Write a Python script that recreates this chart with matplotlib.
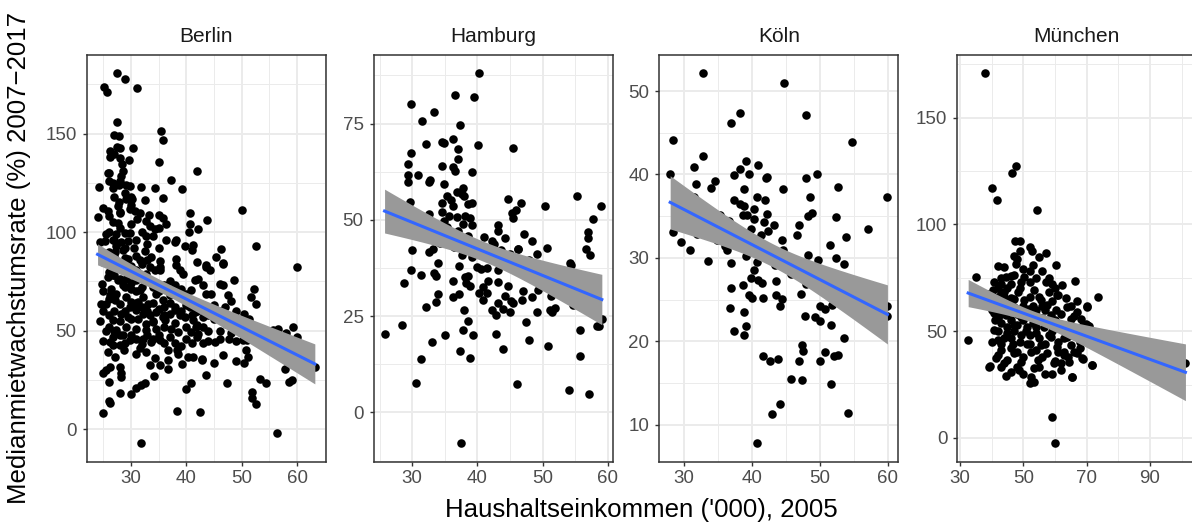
import numpy as np
import matplotlib
matplotlib.use("Agg")
import matplotlib.pyplot as plt

plt.rcParams['font.family'] = ['Liberation Sans', 'DejaVu Sans']

# ---------------- data (income '000 2005, median rent growth % 2007-2017) ----------------
cities = ["Berlin", "Hamburg", "Köln", "München"]

berlin_pts = [
    (27.5, 180.5), (28.9, 177.8), (25.2, 173.6), (25.7, 171.2), (31.1, 172.9), (27.5, 155.9),
    (35.4, 151.3), (35.8, 146.8), (26.9, 149.1), (27.8, 148.8), (30.4, 142.9), (27.5, 143.2),
    (28.1, 142.6), (26.2, 141.2), (26.9, 139.5), (26.2, 138.2), (28.0, 137.8), (29.7, 136.5),
    (28.4, 134.5), (35.1, 135.7), (42.0, 131.1), (28.6, 131.1), (25.8, 129.8), (28.2, 128.6),
    (37.3, 126.6), (26.1, 126.1), (26.7, 124.7), (27.9, 124.0), (29.2, 123.9), (29.9, 123.5),
    (24.3, 122.7), (26.8, 122.3), (31.9, 123.0), (34.4, 122.2), (39.2, 121.8), (35.8, 117.1),
    (32.5, 116.3), (29.2, 116.8), (30.3, 116.8), (27.9, 115.4), (27.7, 113.4), (50.0, 111.2),
    (25.8, 110.9), (29.9, 111.7), (30.8, 110.9), (31.6, 109.5), (33.3, 108.9), (35.0, 108.9),
    (40.6, 109.5), (24.0, 107.5), (26.1, 108.4), (28.1, 109.5), (31.1, 106.7), (32.7, 105.8),
    (35.8, 107.2), (36.4, 104.1), (43.8, 106.3), (26.8, 105.0), (27.7, 104.5), (33.4, 103.3),
    (40.6, 104.1), (34.3, 101.6), (35.0, 102.2), (42.2, 101.6), (40.5, 99.9), (25.6, 99.1),
    (27.4, 99.1), (28.9, 99.4), (29.9, 99.4), (32.7, 98.2), (36.4, 96.2), (38.2, 96.1),
    (37.9, 94.9), (52.6, 92.9), (25.3, 95.7), (26.8, 96.1), (28.3, 94.9), (29.5, 95.4),
    (39.7, 93.2), (41.2, 93.7), (46.2, 91.5), (27.4, 93.2), (30.6, 92.0), (27.1, 89.8),
    (28.6, 90.7), (32.5, 90.3), (41.1, 90.7), (45.3, 87.6), (33.7, 87.6), (29.5, 86.5),
    (31.6, 85.9), (35.2, 85.6), (38.1, 86.5), (42.0, 84.8), (46.6, 84.3), (59.9, 82.2),
    (35.2, 82.2), (34.3, 80.6), (43.6, 82.2), (44.2, 80.6), (38.8, 80.6), (39.4, 78.9),
    (31.0, 80.6), (32.8, 78.9),
    (24.8, 73.8), (25.9, 77.2), (26.8, 78.0), (27.7, 75.5), (28.6, 73.0), (29.2, 76.3),
    (30.1, 71.3), (31.0, 75.5), (31.6, 70.4), (26.2, 67.9), (27.1, 65.4), (25.6, 63.7),
    (28.0, 63.7), (29.2, 67.1), (30.1, 64.5), (32.2, 67.1), (33.1, 63.7), (34.6, 68.8),
    (35.8, 65.4), (37.0, 67.9), (37.9, 70.4), (38.8, 67.1), (40.0, 68.8), (40.9, 70.4),
    (41.5, 75.5), (42.1, 76.3), (43.0, 73.0), (43.6, 68.8), (44.5, 68.8), (43.6, 83.1),
    (46.0, 73.8), (46.6, 73.0), (47.5, 67.9), (46.6, 83.9), (38.2, 83.1), (33.4, 82.2),
    (35.2, 80.6), (31.0, 60.3), (32.2, 58.6), (33.4, 57.8), (34.6, 59.5), (35.8, 57.0),
    (37.0, 58.6), (37.9, 60.3), (38.8, 57.8), (39.7, 57.0), (41.2, 55.3), (41.5, 59.5),
    (40.6, 62.0), (41.8, 51.9), (40.9, 49.4), (43.0, 51.9), (42.1, 48.5), (45.1, 44.3),
    (46.0, 46.0), (47.7, 46.0), (46.6, 37.6), (45.0, 33.4), (43.6, 27.5), (42.9, 35.1),
    (40.9, 23.3), (40.0, 20.2), (47.4, 23.3), (48.9, 34.5), (50.4, 33.4), (50.7, 40.1),
    (51.1, 36.7), (50.5, 58.6), (51.3, 56.1), (51.7, 67.1), (52.6, 63.7), (52.3, 71.3),
    (50.3, 45.2), (50.9, 45.2), (53.3, 25.3), (54.3, 23.3), (51.9, 18.7), (51.9, 16.0),
    (52.6, 12.8), (56.4, -2.0), (56.5, 51.1), (58.0, 48.9), (57.8, 30.8), (58.6, 24.1),
    (59.1, 24.9), (63.2, 31.7), (59.2, 51.9), (55.6, 50.2), (54.4, 45.2), (48.6, 75.5),
    (49.0, 53.6), (47.1, 53.6), (31.9, -7.1), (38.4, 9.3), (42.5, 8.9), (25.0, 8.1),
    (26.1, 14.5), (26.3, 13.5), (28.0, 18.2), (30.1, 17.7), (31.0, 20.7), (31.9, 22.4),
    (32.5, 23.3), (26.1, 24.1), (24.9, 28.3), (25.6, 30.0), (26.2, 31.7), (28.0, 31.7),
    (28.3, 26.6), (28.3, 28.3), (34.2, 27.0), (33.4, 32.5), (35.2, 32.5), (36.7, 30.8),
    (39.3, 32.9), (40.3, 36.7), (41.2, 36.7), (42.8, 35.4), (34.4, 36.2), (36.7, 35.1),
    (38.3, 40.1), (38.5, 38.1), (36.7, 40.1), (31.0, 38.4), (32.8, 39.3), (31.6, 41.0),
    (27.2, 36.4), (25.9, 39.3), (28.7, 40.4), (26.8, 42.6), (28.0, 42.6), (29.8, 45.2),
    (32.2, 46.0), (33.7, 44.3), (35.2, 45.2), (26.2, 44.3), (26.8, 46.8), (28.6, 47.7),
    (25.6, 49.7), (27.4, 50.2), (29.2, 51.9), (31.0, 51.1), (32.8, 50.2), (34.6, 51.1),
    (37.3, 51.1), (38.5, 49.4), (29.5, 57.0), (28.3, 58.6), (26.8, 55.3), (31.3, 56.1),
    (32.8, 53.6), (34.0, 54.5), (36.1, 55.3), (26.5, 71.3), (27.4, 68.8), (24.7, 63.7),
    (29.8, 62.0), (31.3, 64.5),
    (25.0, 85.0), (26.0, 90.0), (27.0, 88.0), (28.0, 84.0), (29.0, 87.0), (30.0, 83.0),
    (31.0, 88.0), (32.0, 84.0), (33.0, 86.0), (26.0, 80.0), (27.0, 78.0), (28.0, 76.0),
    (29.0, 72.0), (30.0, 74.0), (31.0, 70.0), (32.0, 72.0), (33.0, 75.0), (34.0, 72.0),
    (35.0, 70.0), (36.0, 73.0), (37.0, 75.0), (38.0, 73.0), (39.0, 71.0), (25.0, 60.0),
    (26.0, 58.0), (27.0, 60.0), (28.0, 55.0), (29.0, 60.0), (30.0, 56.0), (31.0, 64.0),
    (32.0, 62.0), (33.0, 60.0), (34.0, 64.0), (35.0, 61.0), (36.0, 62.0), (37.0, 64.0),
    (38.0, 62.0), (39.0, 60.0), (40.0, 63.0), (41.0, 65.0), (42.0, 60.0), (43.0, 62.0),
    (44.0, 58.0), (45.0, 56.0), (46.0, 60.0), (47.0, 62.0), (27.0, 50.0), (28.0, 48.0),
    (29.0, 44.0), (30.0, 48.0), (31.0, 46.0), (32.0, 43.0), (33.0, 48.0), (34.0, 46.0),
    (35.0, 48.0), (36.0, 44.0), (37.0, 47.0), (38.0, 44.0), (39.0, 42.0), (40.0, 46.0),
    (41.0, 44.0), (42.0, 47.0), (43.0, 44.0), (44.0, 50.0), (27.0, 96.0), (29.0, 92.0),
    (31.0, 96.0), (33.0, 94.0), (35.0, 92.0), (26.0, 100.0), (28.0, 102.0), (30.0, 104.0),
    (32.0, 100.0), (34.0, 98.0), (28.0, 110.0), (30.0, 114.0), (27.0, 118.0), (29.0, 120.0),
    (26.0, 130.0), (28.0, 126.0), (30.0, 118.0), (25.0, 112.0), (24.5, 95.0), (25.0, 70.0),
    (26.0, 66.0), (24.5, 55.0), (25.0, 45.0), (26.0, 52.0), (36.0, 52.0), (38.0, 54.0),
    (40.0, 52.0), (42.0, 53.0), (44.0, 45.0), (46.0, 50.0), (48.0, 49.0), (49.0, 45.0),
    (50.0, 50.0), (52.0, 47.0), (53.0, 48.0), (54.0, 46.0), (55.0, 44.0), (56.0, 40.0),
    (57.0, 47.0), (58.0, 45.0), (60.0, 47.0), (61.0, 37.0), (62.0, 41.0), (34.0, 55.0),
    (36.0, 58.0), (41.0, 58.0), (43.0, 57.0), (45.0, 63.0), (47.0, 58.0), (49.0, 60.0),
    (48.0, 65.0),
]

hamburg_pts = [
    (25.75, 20.4), (28.5, 22.6), (28.7, 33.7), (29.8, 80.2), (29.8, 67.4), (29.4, 64.4),
    (29.4, 61.7), (29.3, 59.9), (29.7, 54.7), (30.0, 42.2), (29.8, 37.1), (31.3, 35.7),
    (31.5, 75.6), (30.9, 61.6), (32.1, 69.7), (32.5, 51.6), (32.8, 60.4), (32.5, 59.8),
    (33.4, 78.1), (34.6, 70.2), (34.8, 69.9), (34.6, 64.1), (34.9, 59.4), (34.5, 54.4),
    (34.5, 52.0), (35.4, 56.1), (35.9, 55.2), (36.3, 53.7), (35.7, 50.9), (36.8, 50.7),
    (35.4, 48.1), (36.2, 71.0), (36.6, 82.3), (37.0, 68.5), (37.0, 65.9), (36.2, 63.8),
    (36.6, 62.8), (37.3, 74.6), (36.9, 57.1), (37.6, 56.8), (37.8, 58.2), (37.9, 56.3),
    (39.1, 62.5), (39.5, 81.9), (40.3, 88.0), (40.1, 69.4), (38.5, 54.0), (39.2, 54.4),
    (38.1, 50.9), (37.8, 49.0), (39.1, 48.7), (37.0, 47.2), (38.5, 45.7), (36.4, 42.9),
    (37.6, 40.9), (39.1, 40.3), (36.3, 34.1), (37.1, 38.0), (38.1, 35.2), (38.6, 35.5),
    (38.2, 33.6), (38.9, 32.9), (36.2, 29.9), (37.1, 30.7), (37.9, 26.7), (38.6, 23.8),
    (37.8, 21.3), (39.3, 20.1), (37.4, 16.0), (38.9, 14.2), (35.1, 20.0), (33.1, 18.2),
    (31.3, 13.9), (30.6, 7.6), (37.5, -8.0), (32.1, 27.4), (33.7, 28.7), (34.0, 30.7),
    (34.0, 38.8), (33.2, 42.5), (32.6, 41.6), (33.3, 36.2), (33.6, 35.5), (40.0, 37.8),
    (40.6, 37.2), (41.5, 37.4), (41.0, 45.5), (40.3, 31.0), (40.8, 32.5), (41.4, 31.0),
    (40.9, 29.3), (41.7, 34.0), (42.3, 26.7), (42.9, 25.4), (42.8, 20.4), (43.1, 28.4),
    (43.1, 33.8), (43.2, 36.9), (43.6, 42.1), (42.6, 43.6), (43.1, 47.2), (43.1, 48.7),
    (44.2, 45.3), (44.0, 16.5), (43.9, 26.8), (44.2, 30.1), (44.7, 32.7), (45.1, 28.8),
    (45.4, 28.4), (45.0, 26.0), (44.7, 55.4), (45.3, 51.8), (45.4, 50.6), (46.0, 52.6),
    (45.5, 68.7), (46.7, 54.5), (45.0, 41.0), (46.2, 42.3), (46.3, 42.3), (47.1, 46.3),
    (47.0, 31.4), (46.8, 29.1), (47.5, 23.6), (47.9, 18.7), (46.1, 7.4), (47.9, 39.5),
    (48.4, 44.4), (48.4, 29.9), (49.1, 41.2), (49.3, 31.9), (49.2, 26.1), (50.4, 53.5),
    (50.7, 42.8), (50.9, 17.3), (51.3, 30.1), (51.1, 26.5), (51.5, 26.0), (51.9, 27.0),
    (54.2, 38.8), (54.3, 38.3), (54.0, 5.9), (54.6, 27.8), (55.3, 56.3), (55.8, 21.3),
    (55.8, 14.7), (57.1, 4.9), (56.6, 42.4), (57.3, 40.8), (56.9, 45.3), (57.0, 46.8),
    (57.7, 50.3), (59.0, 53.5), (58.3, 22.5), (58.7, 22.5), (59.1, 24.2), (34.8, 49.6),
    (34.3, 44.0), (31.8, 49.9), (47.5, 35.3), (42.3, 44.4), (38.8, 50.5),
]

koeln_pts = [
    (32.9, 52.1), (44.7, 51.0), (38.2, 47.4), (36.9, 46.2), (48.0, 47.1), (28.4, 44.1),
    (54.7, 43.9), (32.9, 42.2), (28.0, 40.0), (31.5, 40.9), (39.2, 41.6), (40.9, 41.1),
    (38.3, 40.6), (37.4, 39.9), (39.6, 40.0), (49.6, 40.0), (42.1, 39.6), (42.3, 39.7),
    (48.0, 39.6), (31.8, 38.8), (34.6, 39.2), (34.0, 38.4), (38.9, 38.3), (44.6, 38.3),
    (52.7, 38.5), (59.95, 37.3), (31.5, 37.3), (37.4, 37.0), (40.8, 37.3), (42.0, 36.9),
    (38.3, 36.5), (38.9, 36.2), (48.6, 37.3), (40.3, 35.9), (42.2, 35.3), (38.7, 35.2),
    (39.3, 35.2), (48.9, 35.4), (48.3, 35.0), (52.4, 34.9), (40.4, 34.7), (41.8, 34.3),
    (43.3, 34.0), (35.3, 35.1), (36.6, 34.4), (39.9, 33.5), (47.0, 33.9), (57.1, 33.5),
    (42.4, 33.2), (28.4, 33.1), (32.0, 32.9), (41.3, 32.7), (46.6, 32.7), (53.9, 32.5),
    (29.6, 31.9), (34.9, 32.1), (44.4, 32.1), (51.5, 31.6), (36.1, 31.4), (30.9, 31.0),
    (36.3, 30.9), (44.6, 31.0), (39.2, 30.2), (48.2, 30.3), (52.4, 30.0), (49.8, 29.7),
    (33.6, 29.6), (36.9, 29.4), (40.7, 29.5), (53.6, 29.3), (43.4, 29.2), (40.3, 28.5),
    (39.9, 27.6), (40.9, 27.4), (41.5, 27.0), (43.5, 27.2), (48.0, 26.9), (38.7, 26.8),
    (36.9, 26.4), (47.2, 25.7), (43.5, 25.6), (39.6, 25.5), (40.1, 25.2), (41.6, 25.2),
    (44.4, 25.1), (51.5, 25.3), (52.4, 25.2), (51.8, 24.4), (44.1, 24.2), (50.0, 24.2),
    (50.7, 23.9), (59.95, 24.3), (59.95, 23.0), (36.8, 24.0), (38.9, 23.5), (47.8, 23.0),
    (49.3, 22.9), (50.0, 22.5), (51.7, 22.0), (39.1, 21.9), (37.4, 21.3), (38.8, 20.8),
    (53.6, 20.4), (47.4, 19.6), (47.6, 18.9), (41.6, 18.2), (43.9, 17.9), (42.7, 17.6),
    (47.0, 17.6), (50.1, 17.7), (50.8, 18.7), (52.1, 18.2), (52.7, 18.4), (45.7, 15.5),
    (47.4, 15.4), (51.7, 14.9), (44.2, 12.5), (43.0, 11.3), (54.2, 11.4), (40.7, 7.8),
    (31.6, 34.5), (30.6, 33.7), (30.1, 34.5), (35.3, 32.4), (41.2, 31.3), (43.7, 30.5),
    (45.8, 28.1), (52.2, 25.7), (47.8, 28.1), (44.9, 29.7),
]

muenchen_pts = [
    (37.8, 170.7), (47.6, 127.4), (46.3, 124.0), (40.1, 117.1), (41.6, 111.5), (54.4, 106.9),
    (32.6, 46.0), (35.1, 75.4), (39.5, 33.8), (59.2, 9.7), (60.0, -2.5), (73.5, 66.0),
    (71.6, 34.1), (68.9, 36.8), (65.5, 28.3), (101.2, 34.9), (92.8, 43.5), (70.2, 61.7),
    (70.8, 52.3), (69.7, 53.3),
    (47.3, 92.2), (52.1, 89.4), (52.9, 87.5), (49.0, 87.4), (55.0, 84.7), (57.3, 86.8),
    (47.6, 81.6), (41.9, 80.4), (44.0, 80.1), (53.1, 80.8), (60.2, 80.8), (52.1, 78.2),
    (44.5, 75.4), (47.1, 76.2), (50.3, 75.4), (40.8, 73.1), (42.9, 72.3), (46.1, 72.3),
    (49.2, 73.1), (57.1, 73.1), (59.2, 72.3), (62.1, 71.5), (66.3, 73.5), (40.3, 69.2),
    (44.0, 68.4), (48.2, 68.4), (53.4, 69.2), (58.1, 68.4), (60.8, 66.8), (41.9, 66.0),
    (46.1, 65.3), (50.3, 64.5), (55.5, 64.5), (63.4, 65.3), (67.1, 64.2), (70.2, 61.4),
    (42.9, 61.4), (47.1, 61.4), (51.8, 60.6), (57.6, 62.1), (60.2, 59.8), (63.9, 61.4),
    (67.1, 59.0), (38.7, 67.6), (38.2, 62.9), (40.8, 58.3), (44.5, 57.5), (49.2, 56.7),
    (54.5, 56.7), (58.7, 57.5), (65.0, 55.9), (68.1, 55.9), (70.2, 52.8), (42.9, 53.6),
    (47.1, 52.8), (51.3, 52.0), (56.6, 52.0), (61.8, 51.2), (40.8, 50.5), (45.0, 48.9),
    (49.2, 48.1), (53.9, 48.9), (58.7, 47.4), (63.9, 47.4), (68.1, 47.4), (41.9, 45.8),
    (46.6, 44.2), (51.3, 44.2), (55.5, 43.5), (60.8, 42.7), (65.0, 43.5), (71.3, 44.2),
    (42.9, 41.1), (47.1, 39.6), (52.4, 40.3), (57.6, 39.6), (62.9, 38.8), (67.1, 39.6),
    (41.3, 37.2), (45.0, 36.4), (49.2, 35.7), (54.5, 36.4), (59.7, 34.9), (64.4, 35.7),
    (68.6, 37.2), (39.2, 33.3), (42.9, 33.0), (48.7, 31.8), (53.4, 32.6), (59.2, 29.9),
    (65.5, 28.7), (71.8, 34.1), (44.5, 29.0), (52.4, 28.7), (53.4, 26.3), (52.1, 25.5),
    (46.0, 55.0), (48.0, 58.0), (50.0, 62.0), (52.0, 66.0), (54.0, 60.0), (56.0, 56.0),
    (45.0, 62.0), (47.0, 50.0), (49.0, 45.0), (51.0, 50.0), (53.0, 54.0), (55.0, 47.0),
    (57.0, 44.0), (44.0, 47.0), (46.0, 42.0), (48.0, 40.0), (50.0, 38.0), (52.0, 44.0),
    (54.0, 41.0), (56.0, 38.0), (58.0, 54.0), (43.0, 58.0), (45.0, 52.0), (49.0, 70.0),
    (51.0, 58.0), (53.0, 62.0), (55.0, 66.0), (57.0, 60.0), (59.0, 64.0), (47.0, 65.0),
    (44.0, 66.0), (50.0, 55.0), (52.0, 48.0), (54.0, 52.0), (56.0, 62.0), (48.0, 53.0),
    (46.0, 47.0), (58.0, 48.0), (60.0, 55.0), (61.0, 45.0), (62.0, 58.0), (63.0, 40.0),
    (64.0, 52.0), (65.0, 62.0), (66.0, 57.0), (67.0, 50.0), (68.0, 42.0), (69.0, 53.0),
    (43.0, 44.0), (42.0, 50.0), (41.0, 55.0), (40.0, 45.0), (42.0, 39.0), (44.0, 35.0),
    (46.0, 31.0), (48.0, 33.0), (50.0, 30.0), (55.0, 33.0), (57.0, 30.0), (60.0, 36.0),
    (62.0, 35.0), (63.0, 47.0), (59.0, 50.0), (61.0, 67.0), (60.0, 70.0), (58.0, 75.0),
    (56.0, 78.0), (54.0, 75.0), (52.0, 73.0), (50.0, 79.0), (48.0, 84.0), (46.0, 76.0),
    (45.0, 70.0), (43.0, 75.0), (49.0, 92.0), (47.0, 85.0),
    (62.0, 32.0), (64.0, 38.0), (66.0, 40.0), (68.0, 45.0), (65.0, 48.0), (61.0, 40.0),
    (42.0, 70.0), (41.0, 63.0), (44.0, 62.0), (43.0, 68.0), (40.0, 60.0), (42.0, 56.0),
]

x_ticks = {
    "Berlin": [30, 40, 50, 60],
    "Hamburg": [30, 40, 50, 60],
    "Köln": [30, 40, 50, 60],
    "München": [30, 50, 70, 90],
}
y_ticks = {
    "Berlin": [0, 50, 100, 150],
    "Hamburg": [0, 25, 50, 75],
    "Köln": [10, 20, 30, 40, 50],
    "München": [0, 50, 100, 150],
}

x_title = "Haushaltseinkommen ('000), 2005"
y_title = "Medianmietwachstumsrate (%) 2007\u22122017"

data = {"Berlin": berlin_pts, "Hamburg": hamburg_pts, "Köln": koeln_pts, "München": muenchen_pts}

# ---------------- drawing ----------------
W, H = 1192, 523
fig = plt.figure(figsize=(W / 100, H / 100), dpi=100)

panel_left_px = [86.7, 373.7, 659.3, 957.3]
panel_w_px = 239.0
panel_top_px, panel_bot_px = 55.0, 461.7

grid_col = "#EBEBEB"


def expand(lo, hi, f=0.05):
    r = hi - lo
    return lo - f * r, hi + f * r


def minors(ticks, lim):
    step = ticks[1] - ticks[0]
    cand = [ticks[0] - step / 2] + [t + step / 2 for t in ticks]
    return [c for c in cand if lim[0] <= c <= lim[1]]


for i, city in enumerate(cities):
    pts = np.array(data[city], dtype=float)
    x, y = pts[:, 0], pts[:, 1]
    ax = fig.add_axes([panel_left_px[i] / W, 1 - panel_bot_px / H,
                       panel_w_px / W, (panel_bot_px - panel_top_px) / H])
    xlim = expand(x.min(), x.max())
    ylim = expand(y.min(), y.max())
    ax.set_xlim(xlim)
    ax.set_ylim(ylim)

    # grid
    for v in minors(x_ticks[city], xlim):
        ax.axvline(v, color=grid_col, lw=0.7, zorder=0)
    for v in minors(y_ticks[city], ylim):
        ax.axhline(v, color=grid_col, lw=0.7, zorder=0)
    for v in x_ticks[city]:
        ax.axvline(v, color=grid_col, lw=1.4, zorder=0)
    for v in y_ticks[city]:
        ax.axhline(v, color=grid_col, lw=1.4, zorder=0)

    ax.scatter(x, y, s=38, color="black", linewidths=0, zorder=2)

    # linear fit with 95% confidence band
    n = len(x)
    b1, b0 = np.polyfit(x, y, 1)
    resid = y - (b0 + b1 * x)
    s = np.sqrt(np.sum(resid ** 2) / (n - 2))
    xm = x.mean()
    sxx = np.sum((x - xm) ** 2)
    xs = np.linspace(x.min(), x.max(), 80)
    yhat = b0 + b1 * xs
    se = s * np.sqrt(1.0 / n + (xs - xm) ** 2 / sxx)
    t = 1.97
    ax.fill_between(xs, yhat - t * se, yhat + t * se, color="#999999", lw=0, zorder=3)
    ax.plot(xs, yhat, color="#3366FF", lw=2.2, zorder=4)

    ax.set_xticks(x_ticks[city])
    ax.set_yticks(y_ticks[city])
    ax.tick_params(axis="both", length=3.2, width=1.0, color="#333333",
                   labelcolor="#4D4D4D", labelsize=13.5, pad=2.5)
    ax.tick_params(axis="y", pad=4)
    for sp in ax.spines.values():
        sp.set_color("#333333")
        sp.set_linewidth(1.1)
    ax.set_facecolor("white")

    cx = (panel_left_px[i] + panel_w_px / 2) / W
    fig.text(cx, 1 - 41.5 / H, city, ha="center", va="baseline", fontsize=15, color="#1A1A1A")

fig.text(641 / W, 1 - 517 / H, x_title, ha="center", va="baseline", fontsize=18.6, color="black")
fig.text(19 / W, 1 - 258.4 / H, y_title, ha="center", va="center", rotation=90,
         fontsize=18.6, color="black")

fig.savefig("out.png", dpi=100, facecolor="white")
